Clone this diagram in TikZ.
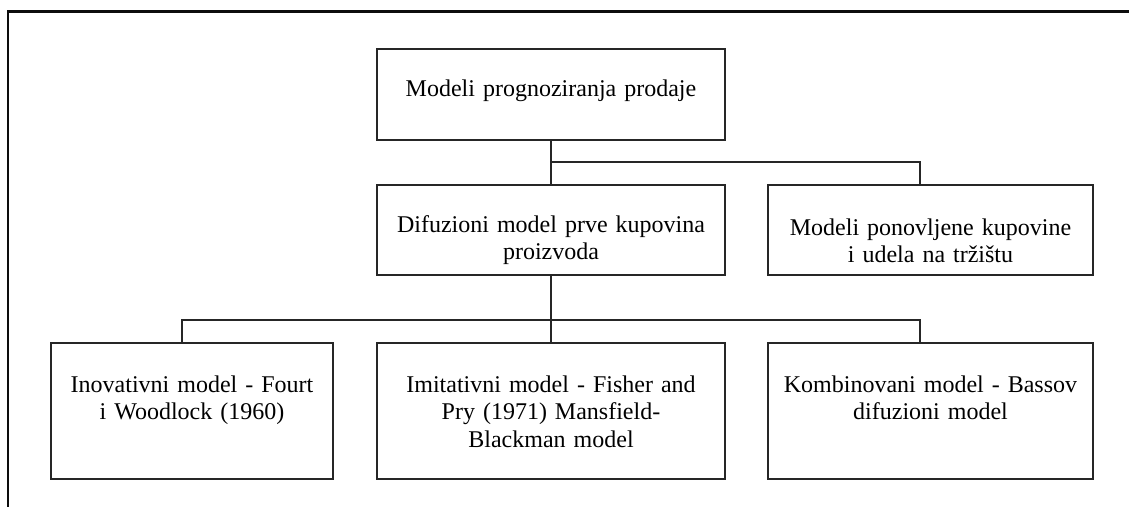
\documentclass[tikz,border=0pt]{standalone}
\usepackage{fontspec}
\setmainfont{Liberation Serif}
\tikzset{
  boxnode/.style={draw=black!85,line width=2pt,inner sep=0pt},
  lbl/.style={anchor=base,align=center,inner sep=0pt,font=\fontsize{24}{27.5}\selectfont},
  link/.style={draw=black!85,line width=2pt},
  framestroke/.style={line width=2.5pt,draw=black!95}
}
\begin{document}
\begin{tikzpicture}[x=1pt,y=-1pt]
\useasboundingbox (0,0) rectangle (1129,507);
% outer frame (top and left edges)
\draw[framestroke] (1129,11.5) -- (8,11.5) -- (8,507);

% boxes
\node[boxnode,minimum width=348,minimum height=91] (b0) at (551,94.5) {};
\node[boxnode,minimum width=348,minimum height=90] (b1) at (551,230) {};
\node[boxnode,minimum width=325,minimum height=90] (b2) at (930.5,230) {};
\node[boxnode,minimum width=282,minimum height=136] (b3) at (192,411) {};
\node[boxnode,minimum width=348,minimum height=136] (b4) at (551,411) {};
\node[boxnode,minimum width=325,minimum height=136] (b5) at (930.5,411) {};

% labels
\node[lbl,text width=340pt] (t0) at (551,96) {Modeli prognoziranja prodaje};
\node[lbl,text width=340pt] (t1) at (551,232) {Difuzioni model prve kupovina\\proizvoda};
\node[lbl,text width=318pt] (t2) at (930.5,235) {Modeli ponovljene kupovine\\i udela na tržištu};
\node[lbl,text width=275pt] (t3) at (192,392) {Inovativni model - Fourt\\i Woodlock (1960)};
\node[lbl,text width=340pt] (t4) at (551,392) {Imitativni model - Fisher and\\Pry (1971) Mansfield-\\Blackman model};
\node[lbl,text width=318pt] (t5) at (930.5,392) {Kombinovani model - Bassov\\difuzioni model};

% connectors
\coordinate (j0) at (551,162);
\draw[link] (b0.south) -- (b1.north);
\draw[link] (j0) -| ([xshift=-10.5pt]b2.north);
\draw[link] (b1.south) -- (b4.north);
\draw[link] ([xshift=-10pt]b3.north) -- ++(0,-22) -| ([xshift=-10.5pt]b5.north);
\end{tikzpicture}
\end{document}
